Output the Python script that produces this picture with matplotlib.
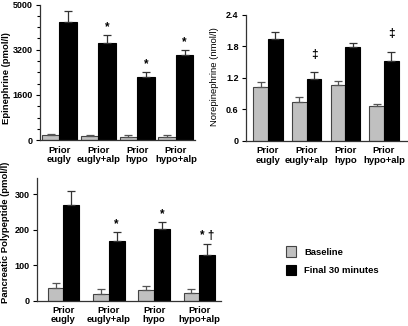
import numpy as np
import matplotlib.pyplot as plt
from matplotlib.patches import Patch

plt.rcParams['font.family'] = ['Liberation Sans', 'DejaVu Sans']

# =========================
# DADOS
# =========================
grupos = ["Prior\neugly", "Prior\neugly+alp", "Prior\nhypo", "Prior\nhypo+alp"]

epi_base = [190, 140, 130, 130]
epi_base_err = [40, 40, 60, 60]
epi_final = [4180, 3430, 2230, 3000]
epi_final_err = [380, 290, 180, 180]
epi_marcas = ["", "*", "*", "*"]

nor_base = [1.02, 0.75, 1.06, 0.66]
nor_base_err = [0.10, 0.09, 0.08, 0.04]
nor_final = [1.95, 1.17, 1.79, 1.53]
nor_final_err = [0.12, 0.14, 0.08, 0.17]
nor_marcas = ["", "‡", "", "‡"]

pp_base = [36, 18, 29, 21]
pp_base_err = [14, 14, 11, 12]
pp_final = [271, 168, 203, 128]
pp_final_err = [37, 26, 20, 32]
pp_marcas = ["", "*", "*", "* †"]

CINZA = "#c0c0c0"


def painel(ax, base, base_err, final, final_err, marcas, largura, marca_pad,
           ylim, yticks, yticklabels, ylabel, xlim, label_xy,
           peso_y="bold", minor=None):
    x = np.arange(len(grupos))
    zeros = np.zeros(len(grupos))
    ax.bar(x - largura / 2, base, width=largura, color=CINZA, edgecolor="#444444",
           linewidth=0.8, yerr=[zeros, base_err], ecolor="#555555",
           error_kw=dict(capsize=3, elinewidth=0.9, capthick=0.9), zorder=2)
    ax.bar(x + largura / 2, final, width=largura, color="black", edgecolor="black",
           linewidth=0.8, yerr=[zeros, final_err], ecolor="#333333",
           error_kw=dict(capsize=3, elinewidth=0.9, capthick=0.9), zorder=2)
    for xi, v, e, m in zip(x, final, final_err, marcas):
        if m:
            ax.text(xi + largura / 2, v + e + marca_pad, m, ha="center", va="bottom",
                    fontsize=8.5, fontweight="bold")
    ax.set_xlim(*xlim)
    ax.set_ylim(*ylim)
    ax.set_yticks(yticks)
    ax.set_yticklabels(yticklabels, fontsize=6.5, fontweight="bold")
    if minor is not None:
        ax.set_yticks(minor, minor=True)
    ax.set_xticks(x)
    ax.set_xticklabels(grupos, fontsize=6.8, fontweight="bold", linespacing=1.05)
    ax.tick_params(axis="x", length=0, pad=4)
    ax.tick_params(axis="y", length=3, width=0.8, pad=2)
    ax.tick_params(axis="y", which="minor", length=2, width=0.8)
    ax.set_ylabel(ylabel, fontsize=6.8, fontweight=peso_y)
    ax.yaxis.set_label_coords(*label_xy)
    for s in ["top", "right"]:
        ax.spines[s].set_visible(False)
    for s in ["left", "bottom"]:
        ax.spines[s].set_linewidth(0.9)
        ax.spines[s].set_color("#333333")


fig = plt.figure(figsize=(4.08, 3.26), dpi=100)

# painel 1: epinefrina
ax1 = fig.add_axes([0.098, 0.570, 0.380, 0.416])
painel(ax1, epi_base, epi_base_err, epi_final, epi_final_err, epi_marcas, 0.45, 60,
       (0, 4800), [0, 1600, 3200, 4800], ["0", "1600", "3200", "5000"],
       "Epinephrine (pmol/l)", (-0.5, 3.49), (-0.19, 0.46),
       minor=np.arange(0, 4800, 400))

# painel 2: norepinefrina
ax2 = fig.add_axes([0.602, 0.568, 0.395, 0.386])
painel(ax2, nor_base, nor_base_err, nor_final, nor_final_err, nor_marcas, 0.38, 0.22,
       (0, 2.4), [0, 0.6, 1.2, 1.8, 2.4], ["0", "0.6", "1.2", "1.8", "2.4"],
       "Norepinephrine (nmol/l)", (-0.58, 3.59), (-0.165, 0.51), peso_y="normal")

# painel 3: polipeptídeo pancreático
ax3 = fig.add_axes([0.090, 0.078, 0.452, 0.375])
painel(ax3, pp_base, pp_base_err, pp_final, pp_final_err, pp_marcas, 0.35, 4,
       (0, 345), [0, 100, 200, 300], ["0", "100", "200", "300"],
       "Pancreatic Polypeptide (pmol/l)", (-0.59, 3.48), (-0.145, 0.56))

# legenda
handles = [Patch(facecolor=CINZA, edgecolor="#444444", linewidth=0.8),
           Patch(facecolor="black", edgecolor="black", linewidth=0.8)]
fig.legend(handles, ["Baseline", "Final 30 minutes"], loc="center left",
           bbox_to_anchor=(0.68, 0.20), frameon=False, handlelength=1.1,
           handleheight=1.4, handletextpad=0.8, labelspacing=0.8,
           prop=dict(size=6.8, weight="bold"))

fig.savefig("out.png", dpi=100)
